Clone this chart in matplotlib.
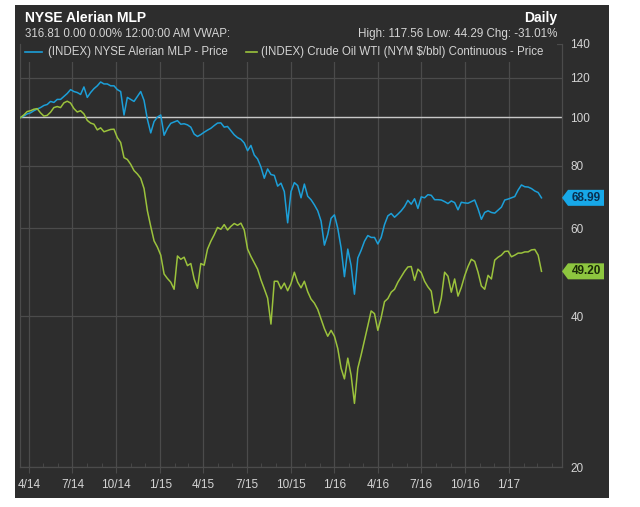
import matplotlib
matplotlib.use('Agg')
import matplotlib.pyplot as plt
import matplotlib.dates as mdates
from matplotlib.patches import Rectangle, Polygon
from matplotlib.ticker import FixedLocator, NullLocator, FixedFormatter
from matplotlib.transforms import IdentityTransform
import pandas as pd

# ---------------- data (weekly) ----------------
start_date = '2014-03-14'

mlp = [99.8, 100.5, 101.5, 102.0, 103.0, 103.8, 104.5, 105.5, 106.0, 107.5,
       107.0, 108.5, 108.5, 110.0, 111.5, 113.5, 112.5, 112.0, 111.0, 114.9,
       109.5, 112.0, 114.0, 115.5, 117.56, 116.5, 116.5, 115.5, 115.5, 113.5,
       112.5, 101.0, 109.5, 108.5, 107.5, 110.0, 112.5, 108.0, 99.0, 93.0,
       98.0, 100.0, 101.0, 92.0, 95.0, 97.2, 97.8, 98.4, 96.8, 97.0,
       96.5, 95.5, 92.5, 91.5, 92.3, 93.3, 94.2, 95.0, 96.2, 97.3,
       97.4, 95.5, 95.8, 94.0, 92.2, 91.0, 90.3, 88.8, 85.7, 87.8,
       84.0, 82.5, 79.5, 75.5, 78.8, 76.8, 76.5, 72.8, 73.8, 71.0,
       61.5, 71.0, 74.0, 73.0, 69.0, 73.5, 69.5, 68.4, 66.8, 65.0,
       62.0, 55.5, 58.3, 62.8, 63.8, 60.0, 54.8, 48.0, 54.5, 50.5,
       44.29, 52.3, 54.2, 56.5, 58.0, 57.5, 57.5, 55.8, 57.5, 61.0,
       63.5, 64.2, 63.1, 64.0, 65.0, 66.3, 68.2, 67.0, 68.7, 65.7,
       69.3, 69.0, 70.0, 69.8, 68.4, 68.4, 68.3, 67.8, 67.2, 68.0,
       67.5, 65.3, 67.6, 67.4, 67.3, 67.8, 68.3, 65.6, 62.5, 64.5,
       65.0, 64.5, 64.3, 65.2, 66.1, 68.3, 68.6, 69.0, 69.4, 71.5,
       73.2, 72.6, 72.5, 72.0, 71.2, 70.7, 68.99]

oil = [99.8, 101.0, 102.6, 103.0, 103.7, 104.0, 102.0, 100.5, 100.8, 102.3,
       104.5, 105.0, 104.5, 106.8, 107.6, 106.7, 104.0, 102.4, 103.0, 101.5,
       98.5, 97.3, 96.8, 94.3, 95.2, 93.5, 94.0, 94.5, 94.6, 91.0,
       89.0, 83.0, 82.3, 80.5, 78.2, 77.0, 75.5, 72.0, 65.0, 60.5,
       56.6, 55.0, 53.0, 48.6, 47.6, 46.8, 45.3, 52.8, 52.0, 52.5,
       50.5, 51.0, 47.5, 45.5, 51.0, 50.6, 54.5, 56.5, 58.2, 60.2,
       59.7, 61.0, 59.5, 60.5, 61.3, 60.8, 61.4, 59.5, 54.5, 52.7,
       51.2, 49.7, 47.3, 45.4, 43.5, 38.6, 47.0, 47.0, 45.4, 46.6,
       45.0, 46.5, 49.0, 46.8, 45.6, 47.0, 44.8, 43.3, 42.5, 41.3,
       39.5, 37.8, 36.5, 37.5, 36.5, 34.5, 31.5, 30.0, 33.0, 30.5,
       26.8, 31.5, 33.5, 35.8, 38.3, 41.0, 40.5, 37.5, 39.8, 42.8,
       43.4, 44.7, 45.3, 46.8, 48.0, 49.2, 50.2, 50.3, 47.2, 49.7,
       48.9, 47.0, 45.8, 44.9, 40.6, 40.8, 43.5, 49.0, 48.1, 44.7,
       47.5, 43.9, 45.7, 48.2, 50.3, 52.0, 51.5, 49.0, 46.0, 45.3,
       48.3, 47.5, 51.8, 52.5, 53.0, 53.9, 54.0, 52.6, 53.0, 53.5,
       53.5, 53.8, 53.8, 54.3, 54.4, 53.0, 49.20]

dates = pd.date_range(start_date, periods=len(mlp), freq='7D')

y_ticks = [20, 40, 60, 80, 100, 120, 140]
x_tick_dates = pd.date_range('2014-04-01', '2017-01-01', freq='QS')
x_tick_labels = [f"{d.month}/{d.year % 100:02d}" for d in x_tick_dates]

title = 'NYSE Alerian MLP'
period = 'Daily'
info_left = '316.81 0.00 0.00% 12:00:00 AM VWAP:'
info_right = 'High: 117.56 Low: 44.29 Chg: -31.01%'
series_names = ['(INDEX) NYSE Alerian MLP - Price',
                '(INDEX) Crude Oil WTI (NYM $/bbl) Continuous - Price']

# ---------------- style ----------------
BG = '#2d2d2d'
GRID = '#4b4b4b'
TXT = '#d4d4d4'
BLUE = '#1c9fd8'
GREEN = '#9bc23c'
TAG_BLUE = '#17a8e8'
TAG_GREEN = '#8dc63f'
FONT = 'Liberation Sans'
plt.rcParams['font.family'] = [FONT, 'DejaVu Sans']

W, H = 640, 507
def fx(px):
    return px / W
def fy(py):
    return 1 - py / H

fig = plt.figure(figsize=(W / 100, H / 100), dpi=100)
fig.patch.set_facecolor('white')
fig.patches.append(Rectangle((fx(15), fy(498)), fx(609) - fx(15), fy(5) - fy(498),
                             transform=fig.transFigure, facecolor=BG,
                             edgecolor='none', zorder=-5))

L, R, T, B = 20, 562, 44, 467
ax = fig.add_axes([fx(L), fy(B), fx(R) - fx(L), fy(T) - fy(B)])
ax.set_zorder(1)
ax.set_facecolor('none')
ax.set_yscale('log')
ax.set_ylim(20, 140)
ax.set_xlim(pd.Timestamp('2014-03-13'), pd.Timestamp('2017-04-22'))

ax.yaxis.set_major_locator(FixedLocator(y_ticks))
ax.yaxis.set_major_formatter(FixedFormatter([str(v) for v in y_ticks]))
ax.yaxis.set_minor_locator(NullLocator())
ax.yaxis.set_minor_formatter(FixedFormatter([]))
ax.yaxis.tick_right()
ax.tick_params(axis='y', which='major', length=0, pad=6, labelsize=8.5,
               labelcolor=TXT)

ax.set_xticks(x_tick_dates)
ax.set_xticklabels(x_tick_labels)
ax.xaxis.set_minor_locator(mdates.MonthLocator())
ax.tick_params(axis='x', which='major', direction='out', length=4, color=GRID,
               pad=5, labelsize=8.5, labelcolor=TXT)
ax.tick_params(axis='x', which='minor', direction='in', length=3, color=GRID)

ax.grid(True, which='major', axis='both', color=GRID, lw=0.9, zorder=0.5)
ax.set_axisbelow(True)
for s in ['left', 'bottom', 'right']:
    ax.spines[s].set_color(GRID)
    ax.spines[s].set_linewidth(0.9)
ax.spines['top'].set_visible(False)

ax.axhline(100, color='#c8c8c8', lw=1.0, zorder=1.8)

ax.plot(dates, mlp, color=BLUE, lw=1.1, zorder=3)
ax.plot(dates, oil, color=GREEN, lw=1.1, zorder=3)

# cover the header/legend strip inside the axes
aw, ah = R - L, B - T
ax.add_patch(Rectangle(((15 - L) / aw, (B - 62) / ah), (557 - 15) / aw, (62 - 38) / ah,
                       transform=ax.transAxes, facecolor=BG, edgecolor='none',
                       zorder=2.5, clip_on=False))

# header texts
fig.text(fx(25), fy(18), title, ha='left', va='center', fontsize=10,
         weight='bold', color='white', zorder=5)
fig.text(fx(557), fy(18), period, ha='right', va='center', fontsize=10,
         weight='bold', color='white', zorder=5)
fig.text(fx(25), fy(34), info_left, ha='left', va='center', fontsize=8.3,
         color=TXT, zorder=5)
fig.text(fx(557), fy(34), info_right, ha='right', va='center', fontsize=8.4,
         color=TXT, zorder=5)

# legend row
for (x0, x1, xt), name, col in zip([(25, 42, 48), (246, 257, 261)], series_names,
                                   [BLUE, GREEN]):
    fig.lines.append(plt.Line2D([fx(x0), fx(x1)], [fy(52), fy(52)],
                                transform=fig.transFigure, color=col, lw=1.2,
                                zorder=5))
    fig.text(fx(xt), fy(52), name, ha='left', va='center', fontsize=8.3,
             color=TXT, zorder=5)

# last value tags
xr = ax.get_xlim()[1]
for vals, col, tcol in [(mlp, TAG_BLUE, '#0b2f4f'), (oil, TAG_GREEN, '#1b2a08')]:
    px, py = ax.transData.transform((xr, vals[-1]))
    poly = Polygon([(px, py), (px + 6, py + 8), (px + 42, py + 8),
                    (px + 42, py - 8), (px + 6, py - 8)], closed=True,
                   transform=IdentityTransform(), facecolor=col, edgecolor='none',
                   zorder=6)
    fig.patches.append(poly)
    fig.text((px + 24.5) / W, py / H, f"{vals[-1]:.2f}", ha='center', va='center',
             fontsize=8.5, weight='bold', color=tcol, zorder=7)

fig.savefig('out.png', dpi=100, facecolor='white')
